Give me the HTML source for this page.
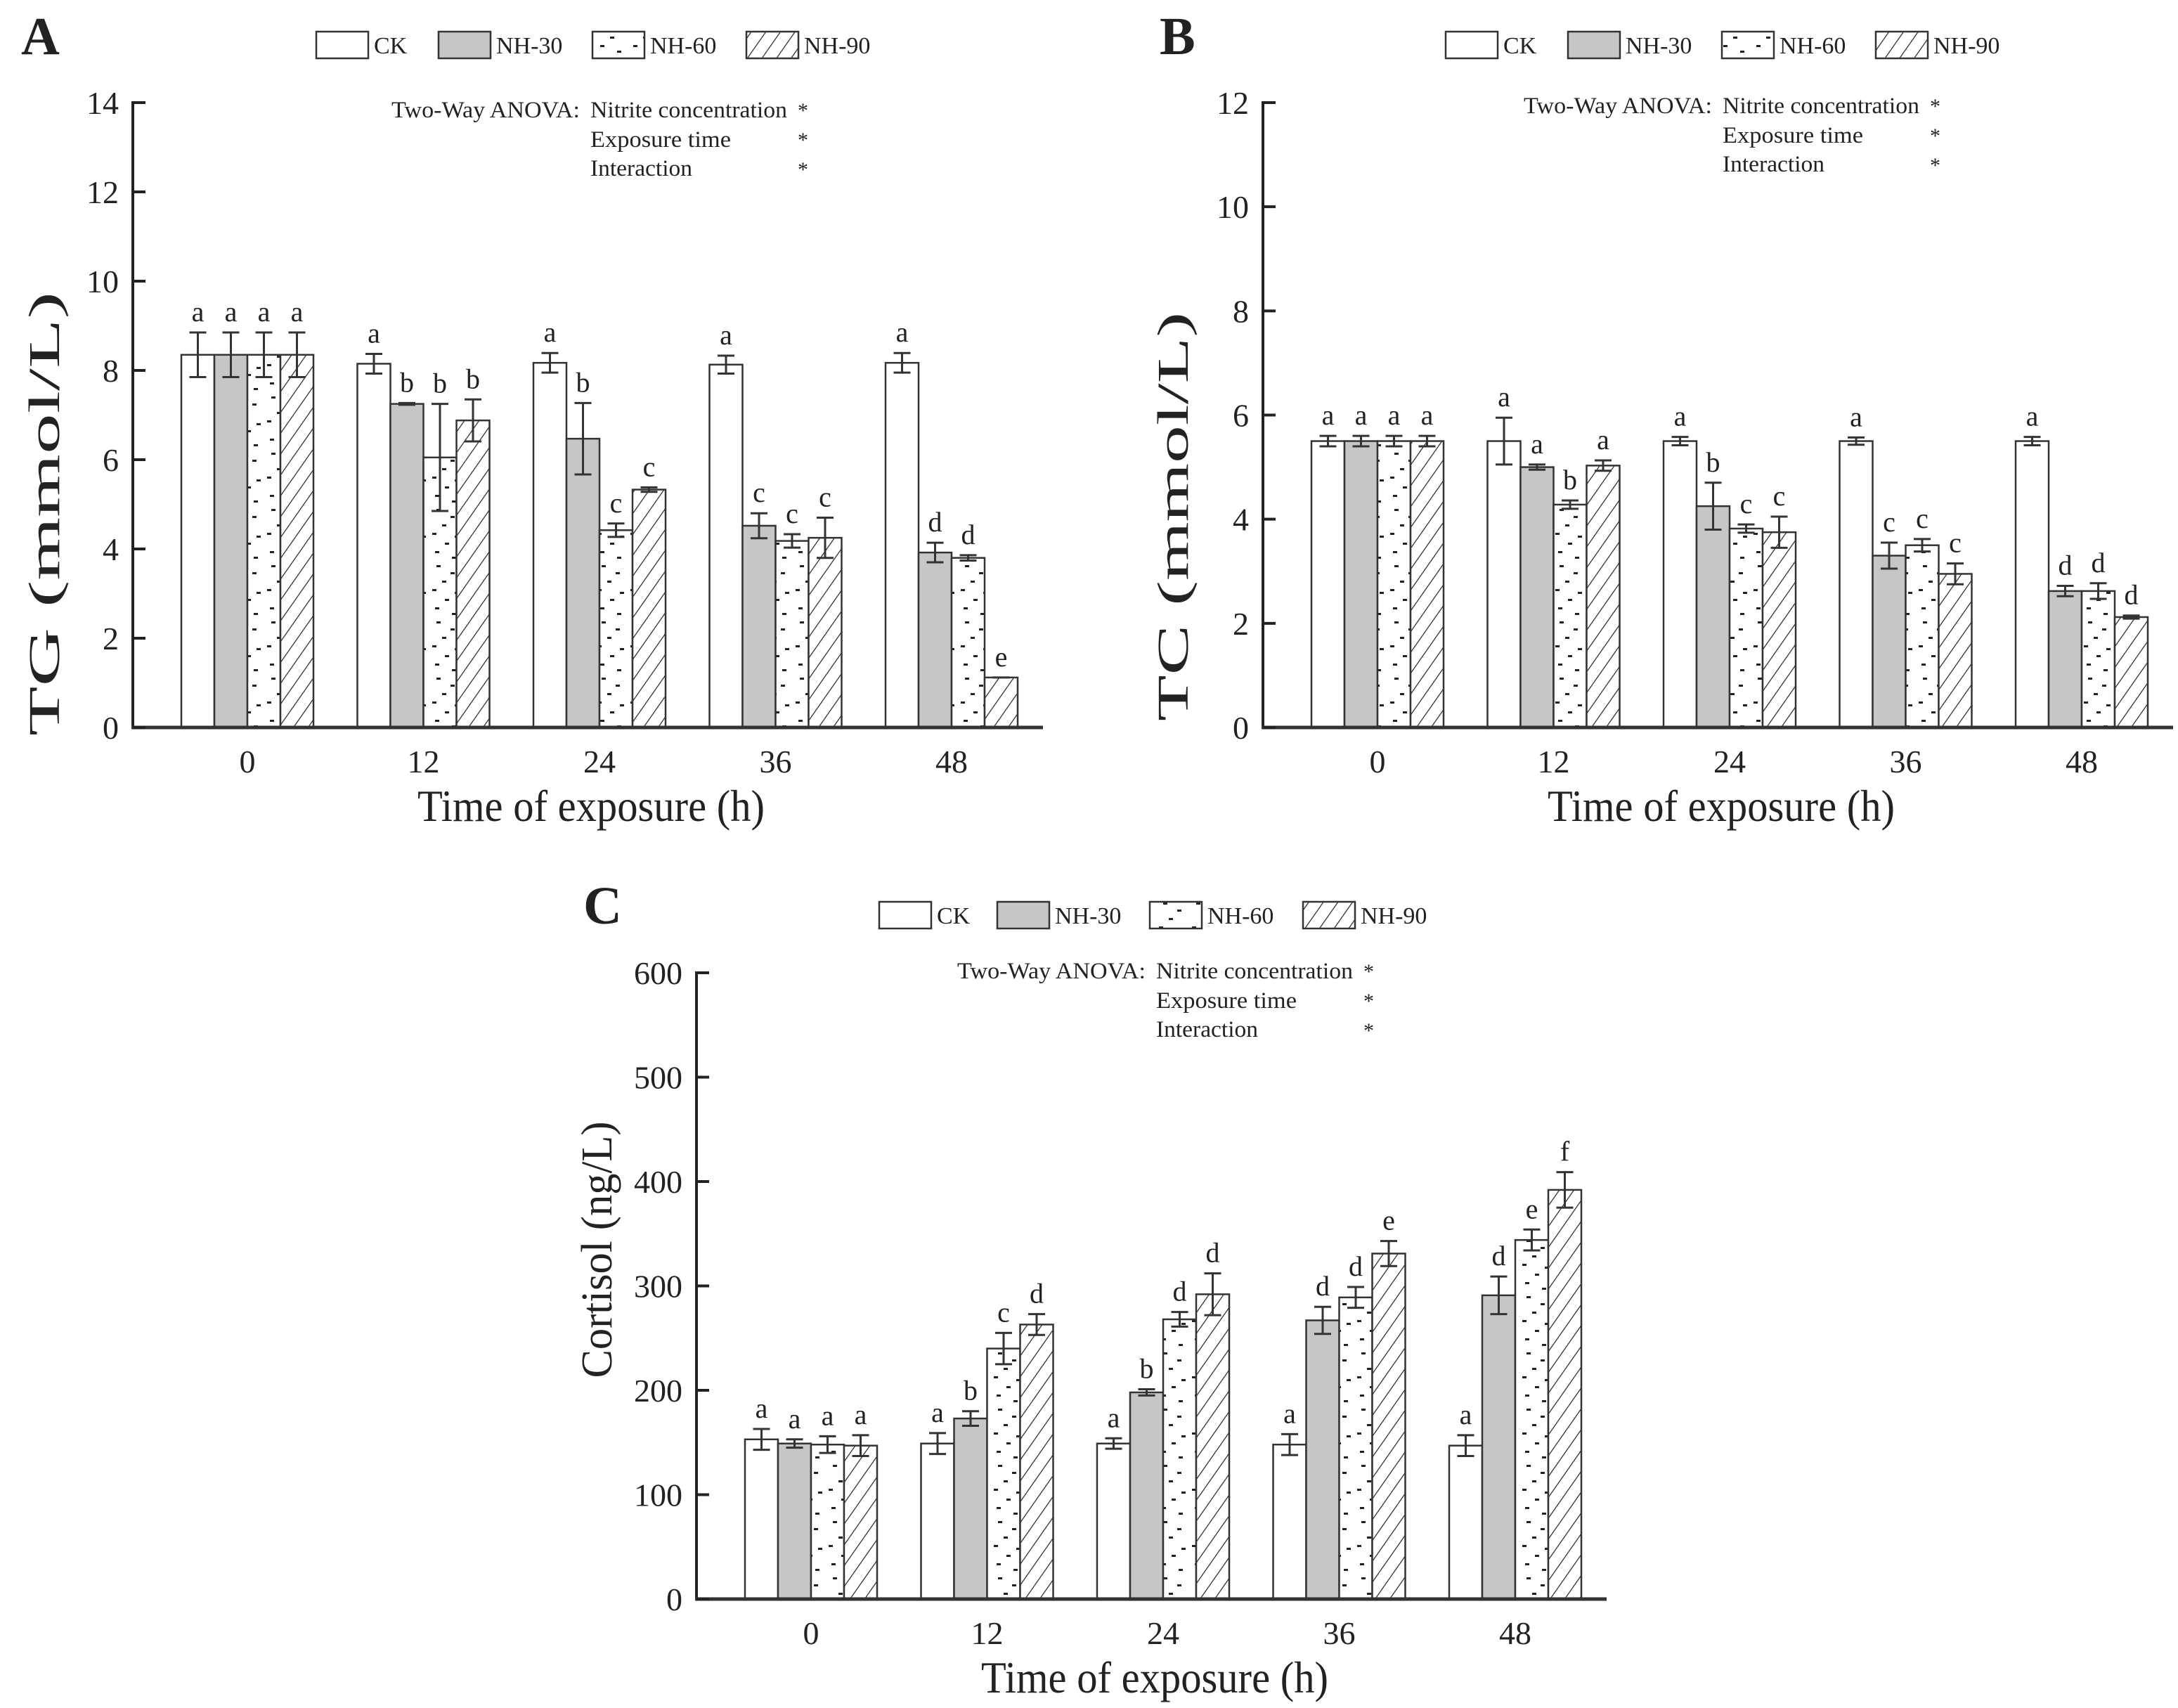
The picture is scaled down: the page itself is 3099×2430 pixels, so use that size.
<!DOCTYPE html>
<html><head><meta charset="utf-8"><title>TG, TC and cortisol over nitrite exposure time</title>
<style>html,body{margin:0;padding:0;background:#fff}svg{display:block}text{font-family:"Liberation Serif",serif;fill:#222}</style></head>
<body>
<svg id="fig" width="3099" height="2430" viewBox="0 0 3099 2430" xmlns="http://www.w3.org/2000/svg">
<defs>
<pattern id="hatch" patternUnits="userSpaceOnUse" width="17" height="17" patternTransform="rotate(35)">
<rect width="17" height="17" fill="#fff"/><line x1="0" y1="0" x2="0" y2="17" stroke="#222" stroke-width="2.4"/>
</pattern>
<pattern id="dots" patternUnits="userSpaceOnUse" width="47" height="80">
<rect width="47" height="80" fill="#fff"/>
<rect x="10" y="4" width="6" height="3" fill="#222"/><rect x="30" y="14" width="6" height="3" fill="#222"/>
<rect x="18" y="26" width="6" height="3" fill="#222"/><rect x="4" y="38" width="6" height="3" fill="#222"/>
<rect x="36" y="42" width="6" height="3" fill="#222"/><rect x="22" y="52" width="6" height="3" fill="#222"/>
<rect x="8" y="64" width="6" height="3" fill="#222"/><rect x="32" y="72" width="6" height="3" fill="#222"/>
</pattern>
</defs>
<rect width="3099" height="2430" fill="#fff"/>
</svg>
<script>
const NS = "http://www.w3.org/2000/svg";
const svg = document.getElementById("fig");

// ---- shared data ----
const timeCategories = ["0", "12", "24", "36", "48"];
const seriesNames = ["CK", "NH-30", "NH-60", "NH-90"];

// ---- Panel A: TG ----
const tgTicks = [0, 2, 4, 6, 8, 10, 12, 14];
const tgCK   = [8.35, 8.15, 8.17, 8.13, 8.17];
const tgNH30 = [8.35, 7.25, 6.47, 4.52, 3.92];
const tgNH60 = [8.35, 6.05, 4.42, 4.18, 3.80];
const tgNH90 = [8.35, 6.88, 5.33, 4.25, 1.12];
const tgErrCK   = [0.5, 0.22, 0.22, 0.2, 0.22];
const tgErrNH30 = [0.5, 0.02, 0.8, 0.28, 0.22];
const tgErrNH60 = [0.5, 1.2, 0.15, 0.15, 0.06];
const tgErrNH90 = [0.5, 0.47, 0.05, 0.45, 0.0];
const tgLetCK   = ["a", "a", "a", "a", "a"];
const tgLetNH30 = ["a", "b", "b", "c", "d"];
const tgLetNH60 = ["a", "b", "c", "c", "d"];
const tgLetNH90 = ["a", "b", "c", "c", "e"];

// ---- Panel B: TC ----
const tcTicks = [0, 2, 4, 6, 8, 10, 12];
const tcCK   = [5.5, 5.5, 5.5, 5.5, 5.5];
const tcNH30 = [5.5, 5.0, 4.25, 3.3, 2.62];
const tcNH60 = [5.5, 4.28, 3.82, 3.5, 2.62];
const tcNH90 = [5.5, 5.03, 3.75, 2.95, 2.12];
const tcErrCK   = [0.1, 0.45, 0.08, 0.07, 0.08];
const tcErrNH30 = [0.1, 0.05, 0.45, 0.25, 0.1];
const tcErrNH60 = [0.1, 0.08, 0.08, 0.12, 0.15];
const tcErrNH90 = [0.1, 0.1, 0.3, 0.2, 0.03];
const tcLetCK   = ["a", "a", "a", "a", "a"];
const tcLetNH30 = ["a", "a", "b", "c", "d"];
const tcLetNH60 = ["a", "b", "c", "c", "d"];
const tcLetNH90 = ["a", "a", "c", "c", "d"];

// ---- Panel C: Cortisol ----
const coTicks = [0, 100, 200, 300, 400, 500, 600];
const coCK   = [153, 149, 149, 148, 147];
const coNH30 = [149, 173, 198, 267, 291];
const coNH60 = [148, 240, 268, 289, 344];
const coNH90 = [147, 263, 292, 331, 392];
const coErrCK   = [10, 10, 5, 10, 10];
const coErrNH30 = [4, 7, 3, 13, 18];
const coErrNH60 = [8, 15, 7, 10, 10];
const coErrNH90 = [10, 10, 20, 12, 17];
const coLetCK   = ["a", "a", "a", "a", "a"];
const coLetNH30 = ["a", "b", "b", "d", "d"];
const coLetNH60 = ["a", "c", "d", "d", "e"];
const coLetNH90 = ["a", "d", "d", "e", "f"];

const fills = ["#ffffff", "#c6c6c6", "url(#dots)", "url(#hatch)"];

function mk(tag, attrs, parent, txt) {
  const e = document.createElementNS(NS, tag);
  for (const k in attrs) e.setAttribute(k, attrs[k]);
  if (txt !== undefined) e.textContent = txt;
  (parent || svg).appendChild(e);
  return e;
}

function drawPanel(p) {
  const g = mk("g", {});
  
  
  const yMax = p.ticks[p.ticks.length - 1];
  const yS = v => p.y0 - (v / yMax) * (p.y0 - p.yTop);
  const xS = i => p.ax + 163 + i * 250.5;
  const bw = 47;

  const pl = mk("text", {x: p.lx, y: p.ly, "font-size": 76, "font-weight": "bold"}, g, p.letter);
  
  

  for (let s = 0; s < 4; s++) {
    const lx = p.legX[s];
    const lg = mk("g", {}, g);
    
    
    mk("rect", {x: lx, y: p.legY - 19, width: 74, height: 38, fill: fills[s], stroke: "#333", "stroke-width": 2.5}, lg);
    mk("text", {x: lx + 82, y: p.legY + 12, "font-size": 34}, lg, seriesNames[s]);
  }

  const an = mk("g", {}, g);
  
  
  mk("text", {x: p.anX, y: p.anY, "font-size": 33, textLength: 268, lengthAdjust: "spacingAndGlyphs"}, an, "Two-Way ANOVA:");
  mk("text", {x: p.anX + 283, y: p.anY, "font-size": 33, textLength: 280, lengthAdjust: "spacingAndGlyphs"}, an, "Nitrite concentration");
  mk("text", {x: p.anX + 283, y: p.anY + 42, "font-size": 33, textLength: 200, lengthAdjust: "spacingAndGlyphs"}, an, "Exposure time");
  mk("text", {x: p.anX + 283, y: p.anY + 83, "font-size": 33, textLength: 145, lengthAdjust: "spacingAndGlyphs"}, an, "Interaction");
  for (let k = 0; k < 3; k++) mk("text", {x: p.anX + 578, y: p.anY + k * 42, "font-size": 30}, an, "*");

  for (let i = 0; i < timeCategories.length; i++) {
    for (let s = 0; s < 4; s++) {
      const v = p.vals[s][i], e = p.errs[s][i];
      const bx = xS(i) + (s - 2) * bw;
      const r = mk("rect", {x: bx, y: yS(v), width: bw, height: p.y0 - yS(v), fill: fills[s], stroke: "#333", "stroke-width": 2.5}, g);
      
      
      const cx = bx + bw / 2, t = yS(v + e), b = yS(v - e);
      const eb = mk("path", {d: `M${cx - 12},${t}H${cx + 12}M${cx},${t}V${b}M${cx - 12},${b}H${cx + 12}`, stroke: "#333", "stroke-width": 3, fill: "none"}, g);
      
      
      const lt = mk("text", {x: cx, y: t - 16, "font-size": 40, "text-anchor": "middle"}, g, p.lets[s][i]);
      
      
    }
  }

  const ya = mk("line", {x1: p.ax, y1: p.yTop - 2, x2: p.ax, y2: p.y0, stroke: "#222", "stroke-width": 4}, g);
  
  
  const xa = mk("line", {x1: p.ax - 2, y1: p.y0, x2: p.ax + 1295, y2: p.y0, stroke: "#333", "stroke-width": 5}, g);
  
  
  for (const t of p.ticks) {
    mk("line", {x1: p.ax, y1: yS(t), x2: p.ax + 18, y2: yS(t), stroke: "#222", "stroke-width": 4}, g);
    const tl = mk("text", {x: p.ax - 20, y: yS(t) + 16, "font-size": 46, "text-anchor": "end"}, g, String(t));
    
    
  }
  for (let i = 0; i < timeCategories.length; i++) {
    const tl = mk("text", {x: xS(i), y: p.y0 + 64, "font-size": 46, "text-anchor": "middle"}, g, timeCategories[i]);
    
    
  }
  const xt = mk("text", {x: p.ax + 652, y: p.y0 + 133, "font-size": 64, "text-anchor": "middle", textLength: 494, lengthAdjust: "spacingAndGlyphs"}, g, "Time of exposure (h)");
  
  
  const yt = mk("text", {x: 0, y: 0, "font-size": 62, "text-anchor": "middle", textLength: p.ytLen, lengthAdjust: "spacingAndGlyphs",
    transform: `translate(${p.ytX},${p.ytY}) rotate(-90)`}, g, p.ytitle);
  
  
}

drawPanel({name: "tg", letter: "A", lx: 30, ly: 77, ax: 189, y0: 1035, yTop: 146, ticks: tgTicks,
  vals: [tgCK, tgNH30, tgNH60, tgNH90], errs: [tgErrCK, tgErrNH30, tgErrNH60, tgErrNH90],
  lets: [tgLetCK, tgLetNH30, tgLetNH60, tgLetNH90],
  legX: [450, 624, 843, 1062], legY: 64, anX: 557, anY: 167,
  ytitle: "TG (mmol/L)", ytX: 84, ytY: 731, ytLen: 632});
drawPanel({name: "tc", letter: "B", lx: 1650, ly: 77, ax: 1797, y0: 1035, yTop: 146, ticks: tcTicks,
  vals: [tcCK, tcNH30, tcNH60, tcNH90], errs: [tcErrCK, tcErrNH30, tcErrNH60, tcErrNH90],
  lets: [tcLetCK, tcLetNH30, tcLetNH60, tcLetNH90],
  legX: [2057, 2231, 2450, 2669], legY: 64, anX: 2168, anY: 161,
  ytitle: "TC (mmol/L)", ytX: 1690, ytY: 735, ytLen: 582});
drawPanel({name: "cortisol", letter: "C", lx: 830, ly: 1314, ax: 991, y0: 2275, yTop: 1384, ticks: coTicks,
  vals: [coCK, coNH30, coNH60, coNH90], errs: [coErrCK, coErrNH30, coErrNH60, coErrNH90],
  lets: [coLetCK, coLetNH30, coLetNH60, coLetNH90],
  legX: [1251, 1419, 1636, 1854], legY: 1302, anX: 1362, anY: 1392,
  ytitle: "Cortisol (ng/L)", ytX: 870, ytY: 1778, ytLen: 365});
</script>
</body></html>
